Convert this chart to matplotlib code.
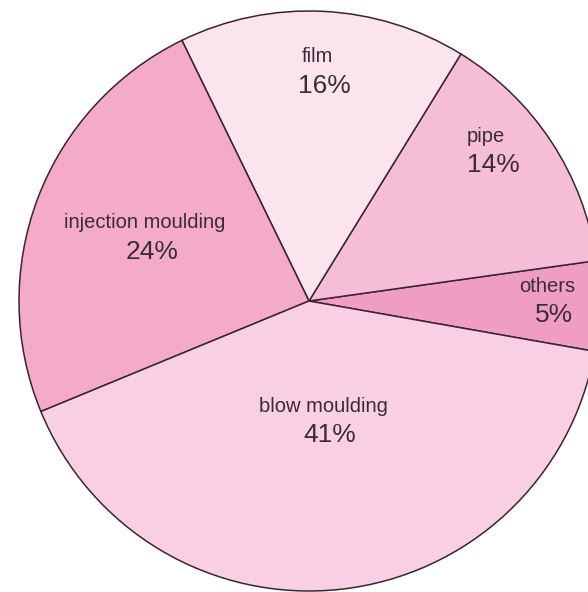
import matplotlib.pyplot as plt

# polyethylene end uses (share, %)
names = ['others', 'pipe', 'film', 'injection moulding', 'blow moulding']
shares = [5, 14, 16, 24, 41]
colors = ['#f09dc2', '#f6bed6', '#fce4ee', '#f3abc9', '#f9d0e3']

# name label centres in pixels from the top-left corner of the image
name_px = [(547, 286), (486, 136), (317, 57), (145, 223), (323, 406)]

W, H = 588, 592
cx, cy, R = 309, 301, 290

plt.rcParams['font.family'] = ['Liberation Sans', 'DejaVu Sans']

fig = plt.figure(figsize=(W / 100, H / 100), dpi=100)
ax = fig.add_axes([0, 0, 1, 1])

ax.pie(shares, colors=colors, startangle=-10, counterclock=True,
       wedgeprops=dict(edgecolor='#3b2431', linewidth=1.1))

ax.set_xlim(-cx / R, (W - cx) / R)
ax.set_ylim(-(H - cy) / R, cy / R)
ax.set_aspect('equal')
ax.axis('off')

txt = '#3a2c35'
for name, val, (px, py) in zip(names, shares, name_px):
    ax.text((px - cx) / R, (cy - py) / R, name,
            ha='center', va='center', fontsize=14.5, color=txt)
    # percentage sits a little lower and to the right of the name
    ax.text((px + 7 - cx) / R, (cy - py - 29) / R, f'{val}%',
            ha='center', va='center', fontsize=19, color=txt)

fig.savefig('out.png', dpi=100, facecolor='white')
